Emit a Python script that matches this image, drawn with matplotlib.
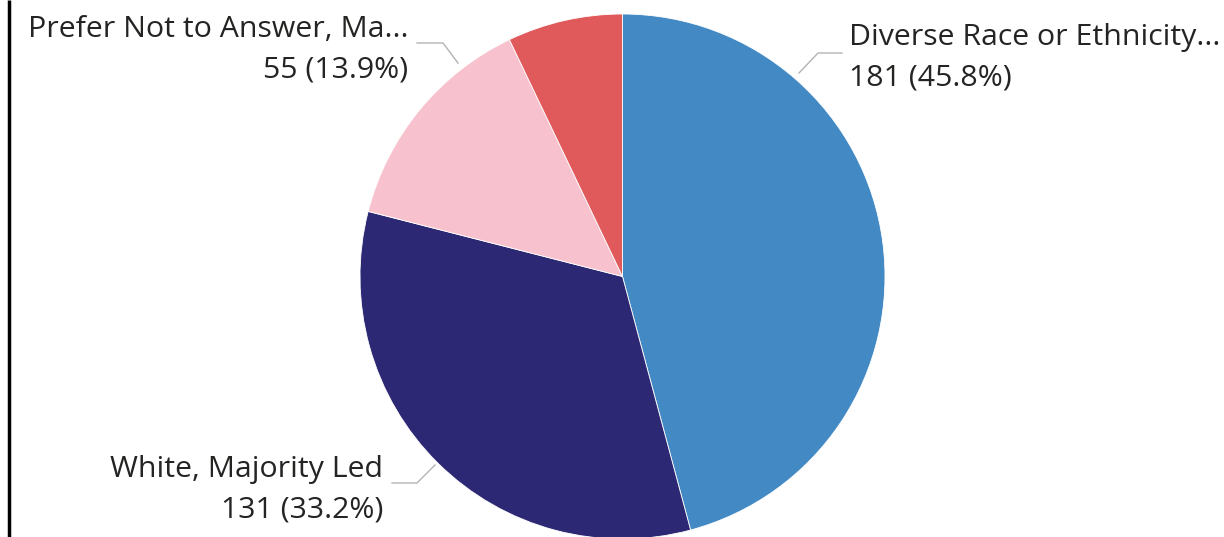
import matplotlib
matplotlib.use("Agg")
import matplotlib.pyplot as plt

categories = ["Diverse Race or Ethnicity...", "White, Majority Led", "Prefer Not to Answer, Ma...", "Other"]
values = [181, 131, 55, 28]
percent_labels = ["45.8%", "33.2%", "13.9%", "7.1%"]
colors = ["#4389C4", "#2D2873", "#F8C1CE", "#E05A5C"]

W, H = 1224, 537
fig = plt.figure(figsize=(W / 100, H / 100), dpi=100)
ax = fig.add_axes([0, 0, 1, 1])

cx, cy, r = 622.5, H - 276.5, 262.5
ax.pie(values, colors=colors, startangle=90, counterclock=False,
       center=(cx, cy), radius=r, frame=True,
       wedgeprops=dict(linewidth=0.6, edgecolor="white"))
ax.set_xlim(0, W)
ax.set_ylim(0, H)
ax.axis("off")

# left border
ax.plot([8.5, 8.5], [0, H], color="black", lw=2.5, solid_capstyle="butt")

txt = dict(color="#252423", fontsize=21.8, family=["Open Sans", "DejaVu Sans"], va="baseline")
lc = "#B3B3B3"

# Diverse
ax.plot([799, 818, 842], [H - 73, H - 53, H - 53], color=lc, lw=1)
ax.text(849, H - 45, categories[0], ha="left", **txt)
ax.text(849, H - 85, f"{values[0]} ({percent_labels[0]})", ha="left", **txt)

# Prefer not
ax.plot([417, 443, 458], [H - 43, H - 43, H - 63], color=lc, lw=1)
ax.text(408, H - 37, categories[2], ha="right", **txt)
ax.text(408, H - 77, f"{values[2]} ({percent_labels[2]})", ha="right", **txt)

# White
ax.plot([392, 417, 435], [H - 483, H - 483, H - 465], color=lc, lw=1)
ax.text(383, H - 477, categories[1], ha="right", **txt)
ax.text(383, H - 518, f"{values[1]} ({percent_labels[1]})", ha="right", **txt)

fig.savefig("out.png", dpi=100)
